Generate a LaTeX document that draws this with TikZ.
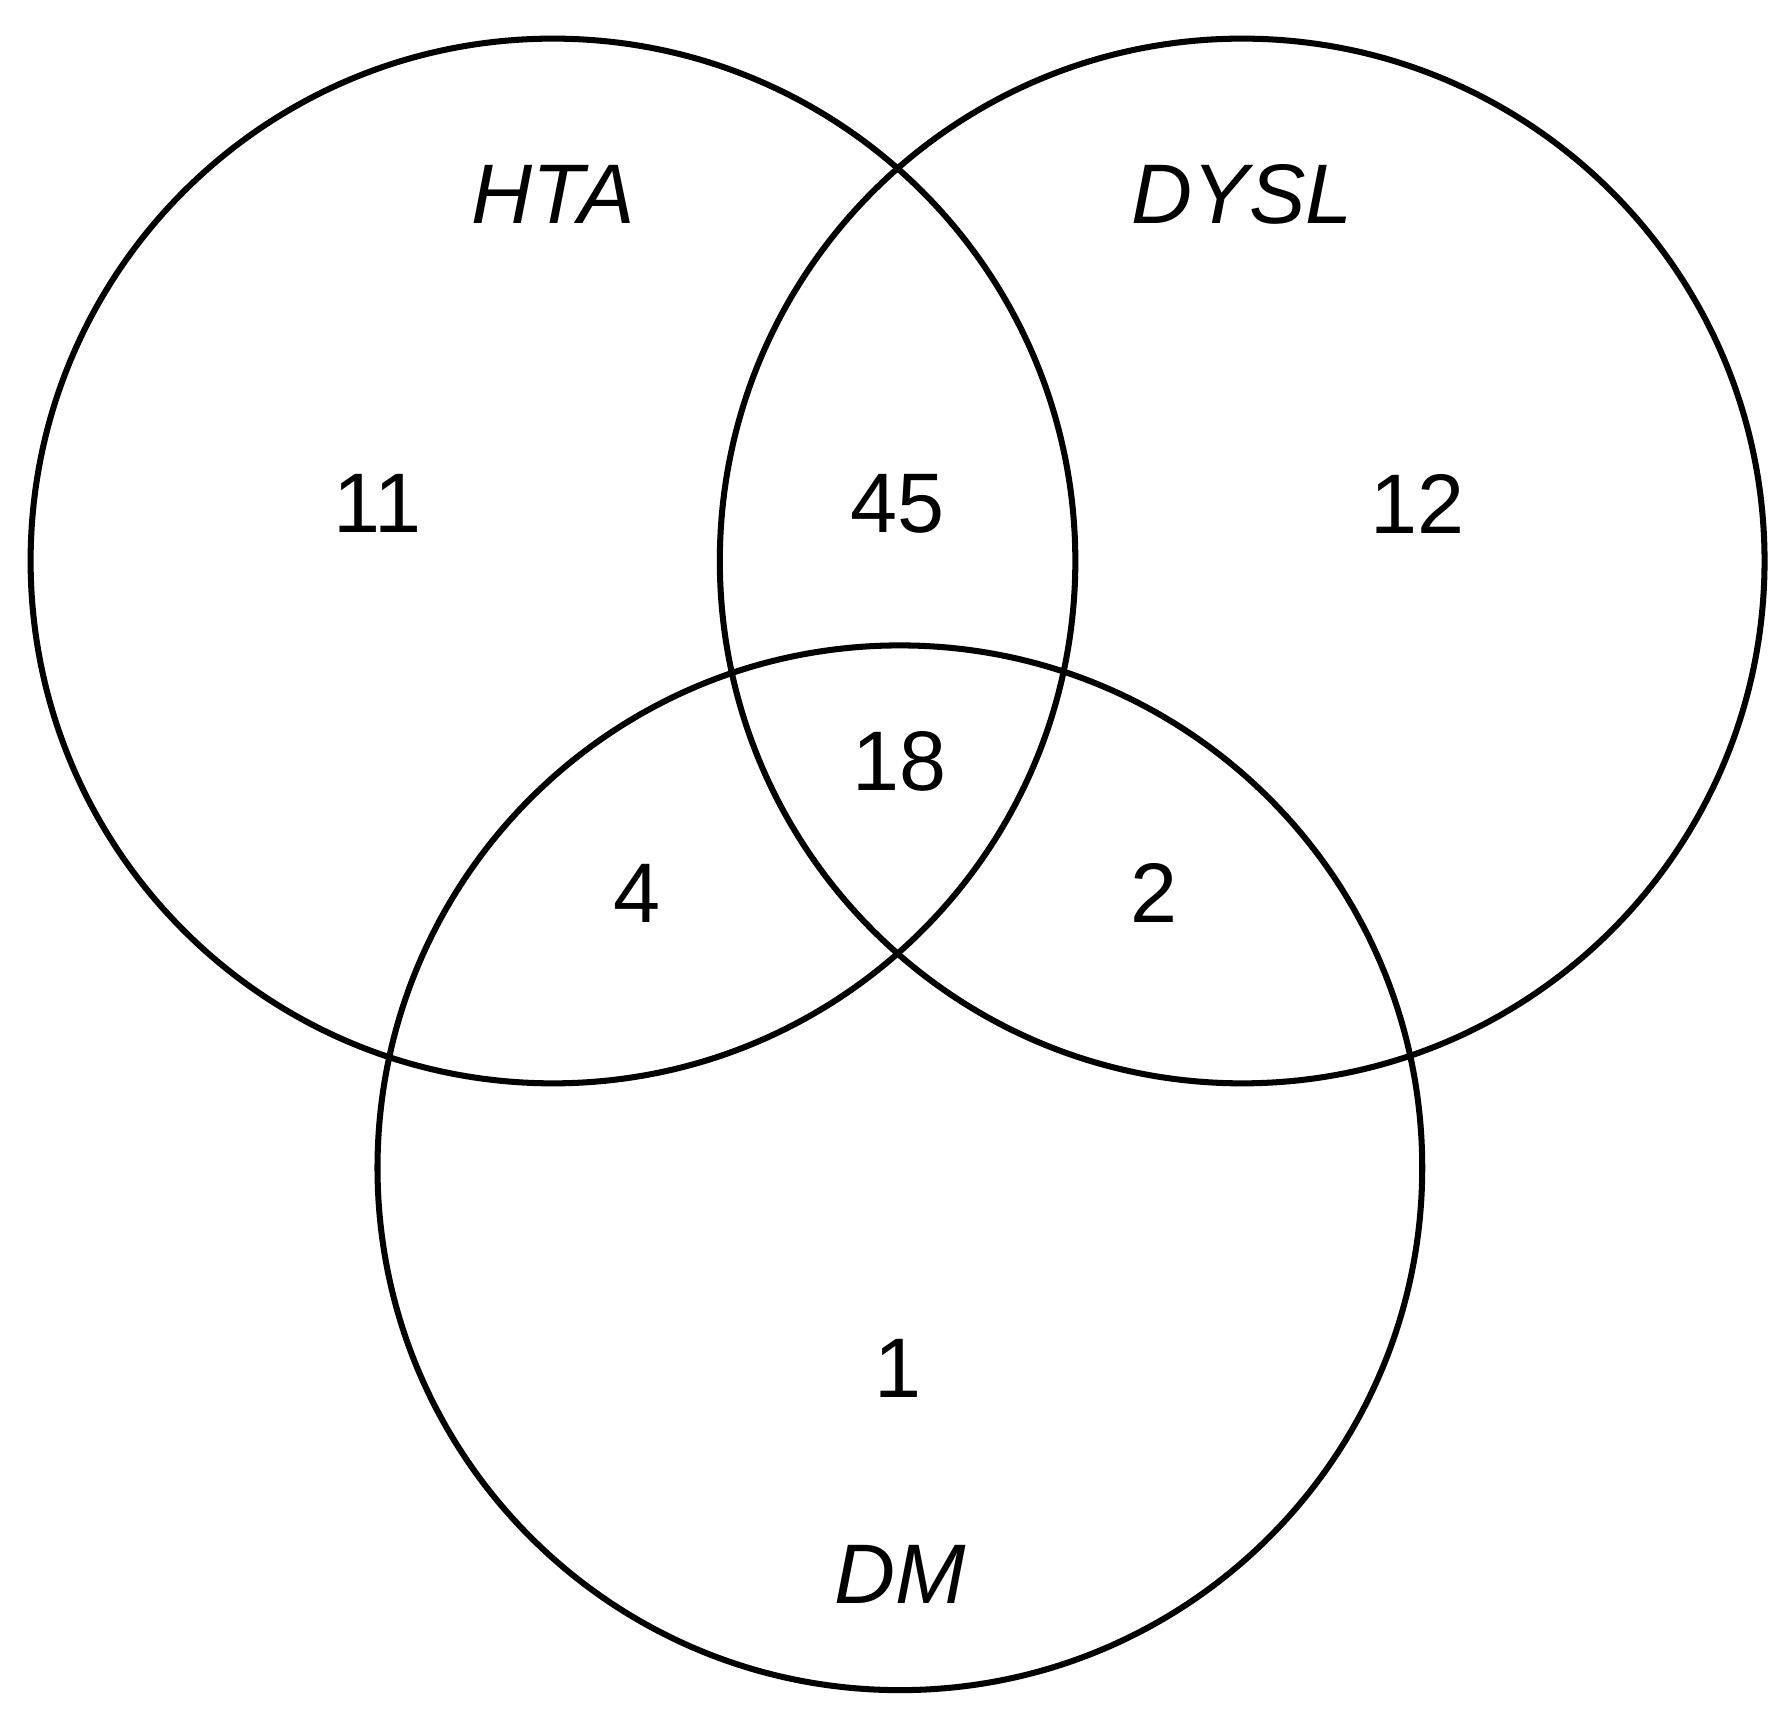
\documentclass[tikz,border=0pt]{standalone}
\usepackage{fontspec}
\setmainfont{Liberation Sans}
\begin{document}
\begin{tikzpicture}[x=0.01cm,y=-0.01cm,
  ring/.style={draw,line width=1.5pt,inner sep=0pt},
  num/.style={font=\fontsize{21}{24}\selectfont},
  lab/.style={font=\fontsize{21}{24}\selectfont\itshape}]
\useasboundingbox (0,0) rectangle (1560,1497);
\node[ring,circle,minimum size=9.12cm] (hta) at (483,490) {};
\node[ring,circle,minimum size=9.12cm] (dysl) at (1085,490) {};
\node[ring,circle,minimum size=9.12cm] (dm) at (786,1020) {};
\node[lab] (lhta) at (483,170) {HTA};
\node[lab] (ldysl) at (1085,170) {DYSL};
\node[lab] (ldm) at (786,1375) {DM};
\node[num] (n11) at (330,440) {11};
\node[num] (n45) at (784,440) {45};
\node[num] (n12) at (1238,440) {12};
\node[num] (n18) at (786,665) {18};
\node[num] (n4) at (556,780) {4};
\node[num] (n2) at (1008,780) {2};
\node[num] (n1) at (784,1195) {1};
\end{tikzpicture}
\end{document}
